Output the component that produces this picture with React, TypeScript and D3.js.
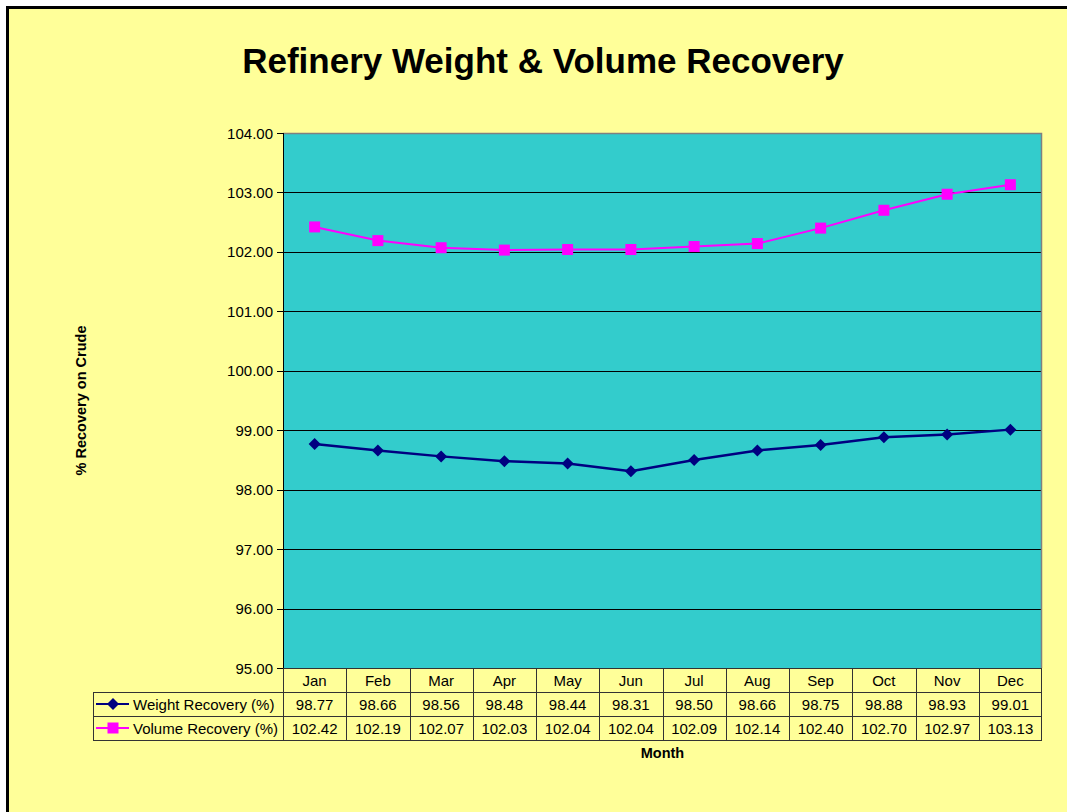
import React from "react";
import * as d3 from "d3";

const months = ["Jan", "Feb", "Mar", "Apr", "May", "Jun", "Jul", "Aug", "Sep", "Oct", "Nov", "Dec"];
const weightRecovery = [98.77, 98.66, 98.56, 98.48, 98.44, 98.31, 98.5, 98.66, 98.75, 98.88, 98.93, 99.01];
const volumeRecovery = [102.42, 102.19, 102.07, 102.03, 102.04, 102.04, 102.09, 102.14, 102.4, 102.7, 102.97, 103.13];
const yTicks = [95, 96, 97, 98, 99, 100, 101, 102, 103, 104];

const series = [
  { name: "Weight Recovery (%)", values: weightRecovery, color: "#000080", marker: "diamond" },
  { name: "Volume Recovery (%)", values: volumeRecovery, color: "#FF00FF", marker: "square" },
];

const W = 1067;
const H = 812;
const left = 283;
const right = 1042;
const top = 133;
const bottom = 668;
const rowH = 24;
const legendLeft = 93;
const font = "Arial, 'Liberation Sans', sans-serif";

const Marker = ({ type, x, y, color }) => {
  if (type === "diamond") {
    const s = 6;
    return <path d={`M${x},${y - s}L${x + s},${y}L${x},${y + s}L${x - s},${y}Z`} fill={color} />;
  }
  return <rect x={x - 5.5} y={y - 5.5} width={11} height={11} fill={color} />;
};

const App = () => {
  const x = d3.scaleBand().domain(months).range([left, right]);
  const y = d3.scaleLinear().domain([95, 104]).range([bottom, top]);
  const line = d3
    .line<number>()
    .x((d, i) => x(months[i]) + x.bandwidth() / 2)
    .y(d => y(d));
  const fmt = d3.format(".2f");

  return (
    <svg width={W} height={H} style={{ position: "absolute", left: 0, top: 0 }} fontFamily={font}>
      <rect x={7.5} y={7.5} width={W + 10} height={H + 10} fill="#FFFF99" stroke="#000" strokeWidth={3} />
      <text x={543} y={73} textAnchor="middle" fontSize={35} fontWeight="bold">
        Refinery Weight &amp; Volume Recovery
      </text>

      {/* plot area */}
      <rect x={left} y={top} width={right - left} height={bottom - top} fill="#33CCCC" />
      {yTicks.slice(1, -1).map(t => (
        <line key={t} x1={left} x2={right} y1={Math.round(y(t)) + 0.5} y2={Math.round(y(t)) + 0.5} stroke="#000" strokeWidth={1} />
      ))}
      <polyline
        points={`${left},${top + 0.5} ${right - 0.5},${top + 0.5} ${right - 0.5},${bottom}`}
        fill="none"
        stroke="#808080"
        strokeWidth={1.5}
      />
      <line x1={left + 0.5} x2={left + 0.5} y1={top} y2={bottom} stroke="#000" />
      {yTicks.map(t => (
        <g key={t}>
          <line x1={left - 6} x2={left} y1={Math.round(y(t)) + 0.5} y2={Math.round(y(t)) + 0.5} stroke="#000" />
          <text x={left - 10} y={y(t) + 5.5} textAnchor="end" fontSize={15}>
            {fmt(t)}
          </text>
        </g>
      ))}

      {series.map(s => (
        <g key={s.name}>
          <path d={line(s.values)} fill="none" stroke={s.color} strokeWidth={s.marker === "diamond" ? 2.5 : 2} />
          {s.values.map((v, i) => (
            <Marker key={i} type={s.marker} x={x(months[i]) + x.bandwidth() / 2} y={y(v)} color={s.color} />
          ))}
        </g>
      ))}

      {/* data table */}
      <g stroke="#333" strokeWidth={1} fill="none">
        <line x1={left} x2={right} y1={bottom + 0.5} y2={bottom + 0.5} />
        <line x1={legendLeft} x2={right} y1={bottom + rowH + 0.5} y2={bottom + rowH + 0.5} />
        <line x1={legendLeft} x2={right} y1={bottom + 2 * rowH + 0.5} y2={bottom + 2 * rowH + 0.5} />
        <line x1={legendLeft} x2={right} y1={bottom + 3 * rowH + 0.5} y2={bottom + 3 * rowH + 0.5} />
        <line x1={legendLeft + 0.5} x2={legendLeft + 0.5} y1={bottom + rowH} y2={bottom + 3 * rowH} />
        {months.map(m => (
          <line key={m} x1={Math.round(x(m)) + 0.5} x2={Math.round(x(m)) + 0.5} y1={bottom} y2={bottom + 3 * rowH} />
        ))}
        <line x1={right - 0.5} x2={right - 0.5} y1={bottom} y2={bottom + 3 * rowH} />
      </g>
      {months.map(m => (
        <text key={m} x={x(m) + x.bandwidth() / 2} y={bottom + 18} textAnchor="middle" fontSize={15}>
          {m}
        </text>
      ))}
      {series.map((s, r) => {
        const cy = bottom + rowH * (r + 1) + rowH / 2;
        return (
          <g key={s.name}>
            <line x1={96} x2={129} y1={cy} y2={cy} stroke={s.color} strokeWidth={2} />
            <Marker type={s.marker} x={113} y={cy} color={s.color} />
            <text x={133} y={cy + 5.5} fontSize={15}>
              {s.name}
            </text>
            {s.values.map((v, i) => (
              <text key={i} x={x(months[i]) + x.bandwidth() / 2} y={cy + 5.5} textAnchor="middle" fontSize={15}>
                {fmt(v)}
              </text>
            ))}
          </g>
        );
      })}

      <text x={(left + right) / 2} y={758} textAnchor="middle" fontSize={14.5} fontWeight="bold">
        Month
      </text>
      <text
        transform={`translate(86, ${(top + bottom) / 2}) rotate(-90)`}
        textAnchor="middle"
        fontSize={14.5}
        fontWeight="bold"
      >
        % Recovery on Crude
      </text>
    </svg>
  );
};

export default App;
